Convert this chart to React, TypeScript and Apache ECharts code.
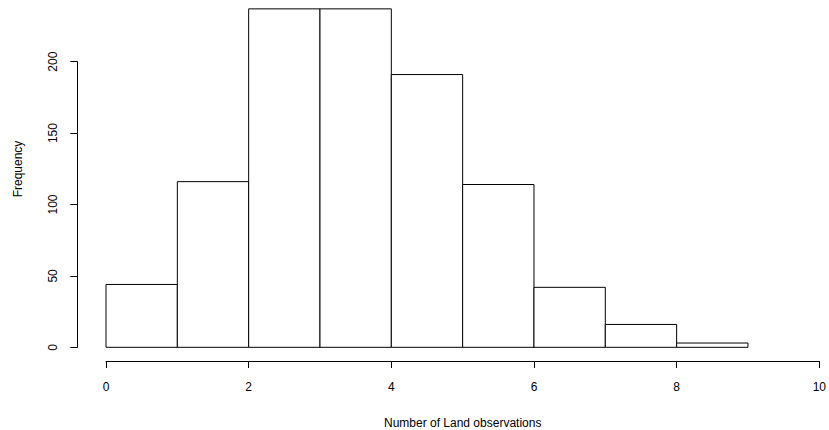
import React, { useEffect, useRef } from "react";
import * as echarts from "echarts";

const binStarts = [0, 1, 2, 3, 4, 5, 6, 7, 8];
const binEnds = [1, 2, 3, 4, 5, 6, 7, 8, 9];
const counts = [44, 116, 237, 237, 191, 114, 42, 16, 3];
const xTicks = [0, 2, 4, 6, 8, 10];
const yTicks = [0, 50, 100, 150, 200];
const xTitle = "Number of Land observations";
const yTitle = "Frequency";

const FONT = "'Liberation Sans', Arial, Helvetica, sans-serif";

export default function App() {
  const ref = useRef<HTMLDivElement>(null);
  useEffect(() => {
    document.body.style.margin = "0";
    if (!ref.current) return;
    const chart = echarts.init(ref.current, undefined, { renderer: "svg" });
    const data = binStarts.map((s, i) => [s, binEnds[i], counts[i]]);
    chart.setOption({
      animation: false,
      backgroundColor: "#ffffff",
      grid: { left: 106, right: 9.7, top: 61.7, bottom: 82.7, containLabel: false },
      xAxis: {
        type: "value",
        min: xTicks[0],
        max: xTicks[xTicks.length - 1],
        interval: 2,
        offset: 13.7,
        axisLine: { show: true, onZero: false, lineStyle: { color: "#000", width: 1 } },
        axisTick: { show: true, length: 7, lineStyle: { color: "#000", width: 1 } },
        axisLabel: { color: "#000", fontSize: 12, fontFamily: FONT, margin: 20 },
        splitLine: { show: false },
      },
      yAxis: {
        type: "value",
        min: yTicks[0],
        max: yTicks[yTicks.length - 1],
        interval: 50,
        offset: 28.7,
        axisLine: { show: true, onZero: false, lineStyle: { color: "#000", width: 1 } },
        axisTick: { show: true, length: 7, lineStyle: { color: "#000", width: 1 } },
        axisLabel: { color: "#000", fontSize: 12, fontFamily: FONT, margin: 18, rotate: 90 },
        splitLine: { show: false },
      },
      series: [
        {
          type: "custom",
          clip: false,
          data,
          encode: { x: [0, 1], y: 2 },
          renderItem: (params: any, api: any) => {
            const x0 = api.value(0);
            const x1 = api.value(1);
            const c = api.value(2);
            const p0 = api.coord([x0, 0]);
            const p1 = api.coord([x1, c]);
            return {
              type: "rect",
              shape: { x: p0[0], y: p1[1], width: p1[0] - p0[0], height: p0[1] - p1[1] },
              style: { fill: "#ffffff", stroke: "#000000", lineWidth: 1 },
            };
          },
        },
      ],
      graphic: [
        {
          type: "text",
          x: 462.7,
          y: 422.5,
          style: {
            text: xTitle,
            fill: "#000",
            font: `12px ${FONT}`,
            align: "center",
            verticalAlign: "middle",
          },
        },
        {
          type: "text",
          x: 17.5,
          y: 169,
          rotation: Math.PI / 2,
          style: {
            text: yTitle,
            fill: "#000",
            font: `12px ${FONT}`,
            align: "center",
            verticalAlign: "middle",
          },
        },
      ],
    });
    return () => chart.dispose();
  }, []);
  return <div ref={ref} style={{ width: 829, height: 430 }} />;
}
